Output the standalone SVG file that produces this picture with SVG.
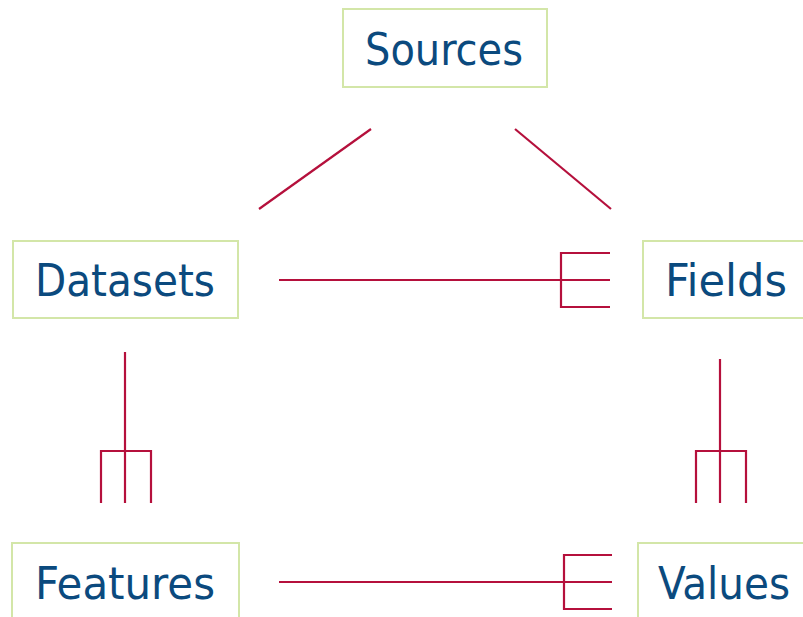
<svg xmlns="http://www.w3.org/2000/svg" width="803" height="617" viewBox="0 0 803 617">
<style>
.box{fill:#fff;stroke:#d3e6a8;stroke-width:2}
.lbl{font-family:"DejaVu Sans","Liberation Sans",sans-serif;font-size:44px;fill:#0b4a7e;font-stretch:condensed}
.c{stroke:#b5103c;stroke-width:2.2;fill:none}
</style>
<rect width="803" height="617" fill="#fff"/>
<g id="connectors">
<line class="c" x1="371" y1="129" x2="259" y2="209"/>
<line class="c" x1="515" y1="129" x2="611" y2="209"/>
<line class="c" x1="279" y1="280" x2="610" y2="280"/>
<polyline class="c" points="610,253 561,253 561,307 610,307"/>
<line class="c" x1="125" y1="352" x2="125" y2="503"/>
<polyline class="c" points="101,503 101,451 151,451 151,503"/>
<line class="c" x1="720" y1="359" x2="720" y2="503"/>
<polyline class="c" points="696,503 696,451 746,451 746,503"/>
<line class="c" x1="279" y1="582" x2="612" y2="582"/>
<polyline class="c" points="612,555 564,555 564,609 612,609"/>
</g>
<g id="sources"><rect class="box" x="343" y="9" width="204" height="78"/><text class="lbl" x="365" y="65" textLength="158" lengthAdjust="spacingAndGlyphs">Sources</text></g>
<g id="datasets"><rect class="box" x="13" y="241" width="225" height="77"/><text class="lbl" x="35" y="296" textLength="180" lengthAdjust="spacingAndGlyphs">Datasets</text></g>
<g id="fields"><rect class="box" x="643" y="241" width="170" height="77"/><text class="lbl" x="665" y="296" textLength="122" lengthAdjust="spacingAndGlyphs">Fields</text></g>
<g id="features"><rect class="box" x="12" y="543" width="227" height="90"/><text class="lbl" x="35" y="599" textLength="180" lengthAdjust="spacingAndGlyphs">Features</text></g>
<g id="values"><rect class="box" x="638" y="543" width="175" height="90"/><text class="lbl" x="658" y="599" textLength="132" lengthAdjust="spacingAndGlyphs">Values</text></g>
</svg>
